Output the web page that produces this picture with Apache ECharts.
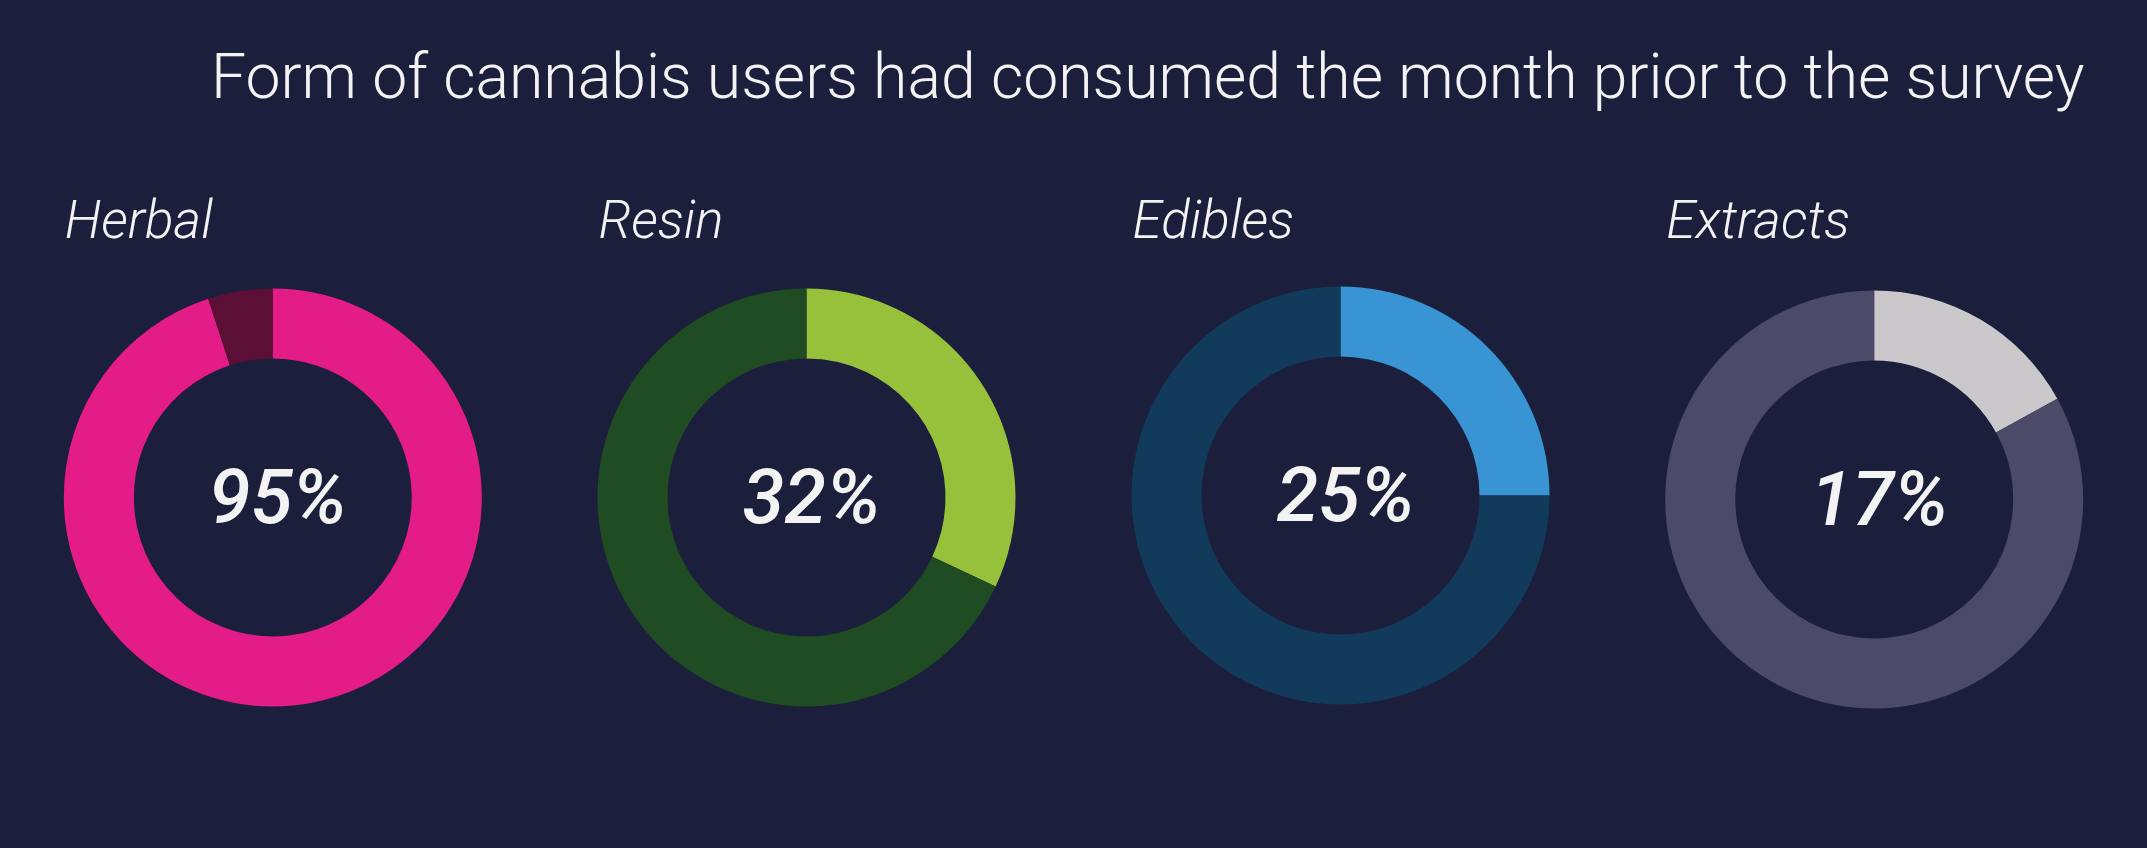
<!DOCTYPE html>
<html>
<head>
<meta charset="utf-8">
<script src="https://cdn.jsdelivr.net/npm/echarts@6/dist/echarts.min.js"></script>
<style>
html,body{margin:0;padding:0;background:#1b1f3c;}
#chart{width:2147px;height:848px;}
</style>
</head>
<body>
<div id="chart"></div>
<script>
const chartTitle = 'Form of cannabis users had consumed the month prior to the survey';
const categories = ['Herbal', 'Resin', 'Edibles', 'Extracts'];
const values = [95, 32, 25, 17];
const mainColors = ['#e31c87', '#97c13a', '#3994d3', '#cac8ca'];
const restColors = ['#5c0f34', '#1f4c22', '#123a5b', '#4b4a68'];

const centersX = [272.8, 806.5, 1340.5, 1874.2];
const centersY = [497.5, 497.5, 495.5, 499.5];
const innerR = 139;
const outerR = 209;
const bg = '#1b1f3c';
const textColor = '#f3f3f3';

const chart = echarts.init(document.getElementById('chart'), null, {renderer: 'canvas'});

const series = categories.map((c, i) => ({
  type: 'pie',
  name: c,
  radius: [innerR, outerR],
  center: [centersX[i], centersY[i]],
  startAngle: 90,
  clockwise: true,
  silent: true,
  avoidLabelOverlap: false,
  animation: false,
  emphasis: {disabled: true},
  labelLine: {show: false},
  label: {show: false},
  itemStyle: {borderWidth: 0},
  data: [
    {
      name: c,
      value: values[i],
      itemStyle: {color: mainColors[i]},
      label: {
        show: true,
        position: 'center',
        offset: [5, 6],
        formatter: values[i] + '%',
        color: textColor,
        fontFamily: 'Roboto',
        fontStyle: 'italic',
        fontWeight: 500,
        fontSize: 76
      }
    },
    {
      name: 'rest',
      value: 100 - values[i],
      itemStyle: {color: restColors[i]},
      label: {show: false}
    }
  ]
}));

const graphics = [
  {
    type: 'text',
    x: 211,
    y: 82,
    style: {
      text: chartTitle,
      fill: textColor,
      font: '300 62.5px Roboto',
      verticalAlign: 'middle',
      align: 'left'
    }
  }
].concat(categories.map((c, i) => ({
  type: 'text',
  x: centersX[i] - outerR + 1,
  y: 225,
  style: {
    text: c,
    fill: textColor,
    font: 'italic 300 53px Roboto',
    verticalAlign: 'middle',
    align: 'left'
  }
})));

chart.setOption({
  backgroundColor: bg,
  animation: false,
  series: series,
  graphic: graphics
});
</script>
</body>
</html>
